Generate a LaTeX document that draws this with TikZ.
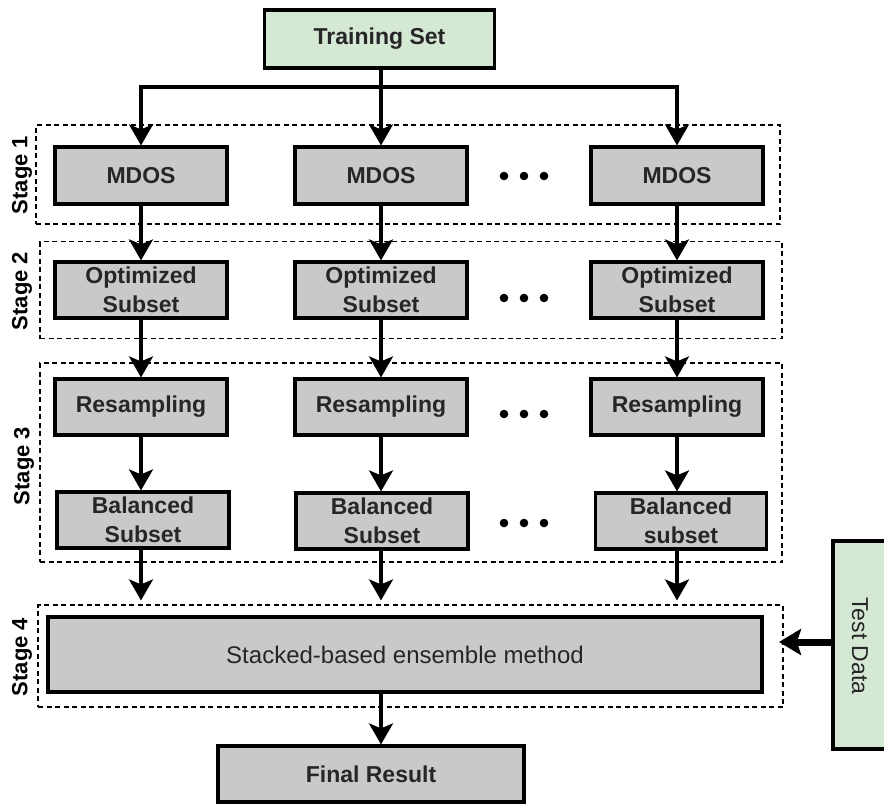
\documentclass[tikz,border=0pt]{standalone}
\usepackage{fontspec}
\setmainfont{Liberation Sans}
\usetikzlibrary{arrows.meta}
\definecolor{boxgray}{HTML}{C9C9C9}
\definecolor{boxgreen}{HTML}{D5E8D4}
\definecolor{txt}{HTML}{262626}
\tikzset{
  gbox/.style={draw=black, line width=3.2pt, fill=boxgray, text=txt, align=center,
    inner sep=0pt, font=\bfseries\fontsize{23}{28.5}\selectfont},
  greenbox/.style={gbox, fill=boxgreen},
  stagebox/.style={draw=black, line width=1.2pt, dash pattern=on 5pt off 3.5pt, inner sep=0pt},
  stagelabel/.style={rotate=90, font=\bfseries\fontsize{22}{26}\selectfont, text=black, inner sep=0pt},
  arr/.style={line width=3.2pt, -{Stealth[length=21pt,width=24pt,inset=5pt]}},
  fatarr/.style={line width=7pt, -{Stealth[length=22pt,width=26pt,inset=4pt]}},
  dotmark/.style={fill=black}
}
\begin{document}
\begin{tikzpicture}[x=1pt,y=-1pt]
\useasboundingbox (0,0) rectangle (884,804);
% stage frames
\node[stagebox, minimum width=744pt, minimum height=99pt] (s1) at (408,174.5) {};
\node[stagebox, minimum width=742pt, minimum height=97pt] (s2) at (411,290) {};
\node[stagebox, minimum width=742pt, minimum height=199pt] (s3) at (411,462.5) {};
\node[stagebox, minimum width=745pt, minimum height=102pt] (s4) at (410.5,656) {};
% stage labels
\node[stagelabel] (l1) at (22,175) {Stage 1};
\node[stagelabel] (l2) at (22,291) {Stage 2};
\node[stagelabel] (l3) at (24,466) {Stage 3};
\node[stagelabel] (l4) at (22,657) {Stage 4};
% training set
\node[greenbox, minimum width=230pt, minimum height=58pt] (train) at (379.5,39) {Training Set};
% column boxes
\foreach \c/\x in {1/141,2/381,3/677}{
  \node[gbox, minimum width=172pt, minimum height=57pt] (m\c) at (\x,175.5) {MDOS};
  \node[gbox, minimum width=172pt, minimum height=56pt] (o\c) at (\x,290) {Optimized\\Subset};
  \node[gbox, minimum width=172pt, minimum height=56pt] (r\c) at (\x,407) {Resampling};
}
\node[gbox, minimum width=172pt, minimum height=56pt] (b1) at (143,520) {Balanced\\Subset};
\node[gbox, minimum width=172pt, minimum height=56pt] (b2) at (382,521) {Balanced\\Subset};
\node[gbox, minimum width=171pt, minimum height=56pt] (b3) at (681,521) {Balanced\\subset};
% stacked, final, test
\node[gbox, font=\fontsize{24}{28}\selectfont, minimum width=714pt, minimum height=75pt] (st) at (405,654.5) {Stacked-based ensemble method};
\node[gbox, minimum width=306pt, minimum height=56pt] (fin) at (371,774) {Final Result};
\node[greenbox, minimum width=58pt, minimum height=208pt] (td) at (862,645) {};
\node[rotate=-90, font=\fontsize{23}{28}\selectfont, text=txt, inner sep=0pt] (tdl) at (860,646) {Test Data};
% dots
\foreach \y in {176,298,414,523}{
  \foreach \dx in {0,20,40}{
    \fill[dotmark] (504+\dx,\y) circle (4.3pt);
  }
}
% connectors
\coordinate (br) at (381,87);
\draw[line width=3.2pt] (train.south -| br) -- (br);
\draw[arr] (br) -- (m2.north);
\draw[arr] (br) -| (m1.north);
\draw[arr] (br) -| (m3.north);
\foreach \c in {1,2,3}{
  \draw[arr] (m\c.south) -- (o\c.north);
  \draw[arr] (o\c.south) -- (r\c.north);
  \draw[arr] (r\c.south) -- (r\c.south |- b\c.north);
  \draw[arr] (b\c.south -| r\c) -- ([yshift=4pt]s4.north -| r\c);
}
\draw[arr] (st.south -| m2) -- (fin.north -| m2);
\coordinate (tdin) at (779,642);
\draw[fatarr] (td.west |- tdin) -- (tdin);
\end{tikzpicture}
\end{document}
